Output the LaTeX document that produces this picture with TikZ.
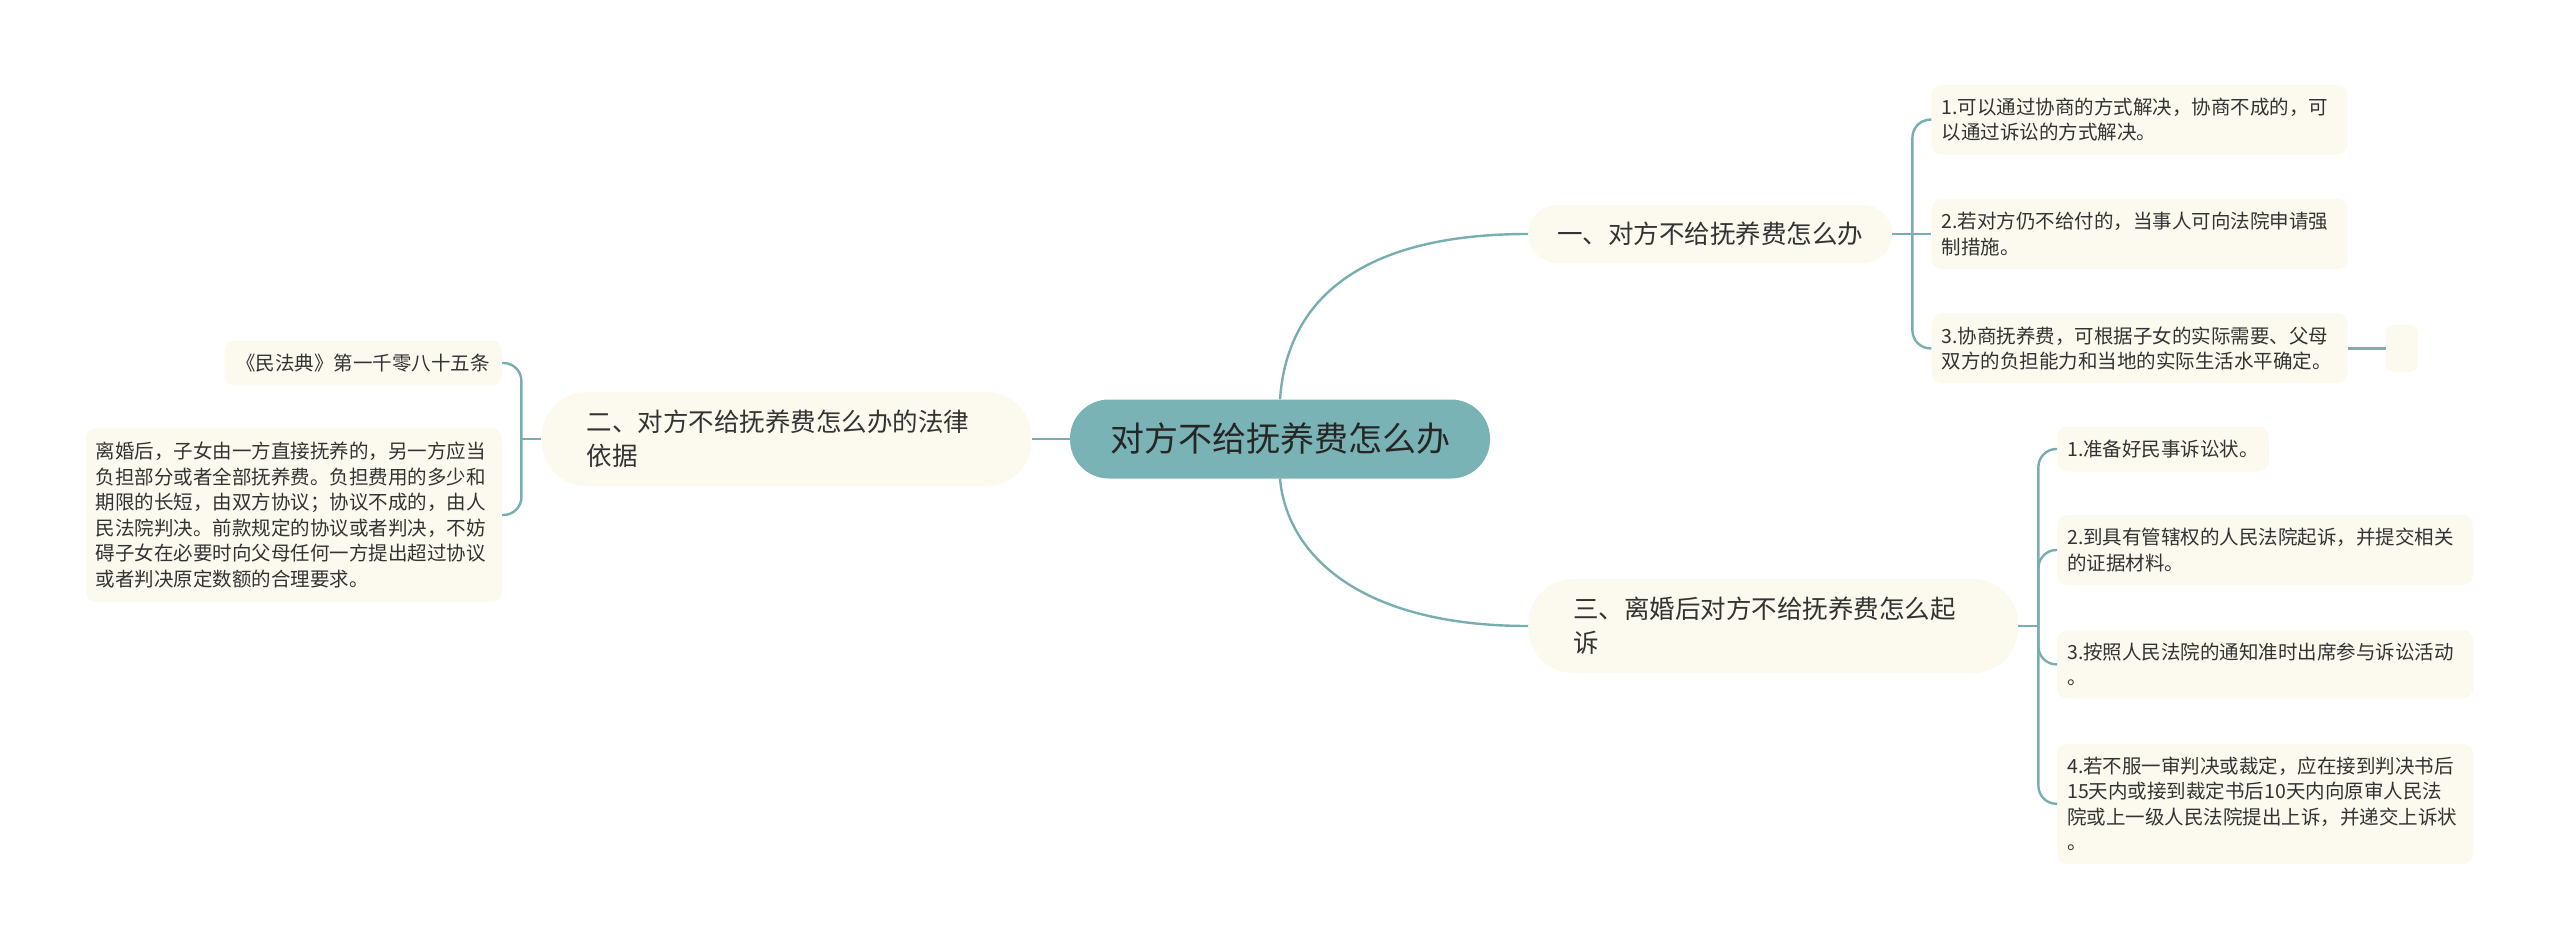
\documentclass[tikz,border=0pt]{standalone}
\usepackage{fontspec}
\newfontfamily\cjk{Noto Sans CJK SC}
\usepackage{tikz}
\usetikzlibrary{positioning}
\definecolor{rootfill}{HTML}{7AB3B5}
\definecolor{linkcol}{HTML}{78AEB0}
\definecolor{cream}{HTML}{FCF9EF}
\definecolor{ink}{HTML}{333333}

\begin{document}
\begin{tikzpicture}[
    x=1pt, y=-1pt,
    root/.style={fill=rootfill, rounded corners=39pt, minimum width=420pt, minimum height=79pt, inner sep=0pt, font=\cjk\fontsize{34}{40}\selectfont, text=black!85},
    branch/.style={fill=cream, rounded corners=29pt, minimum height=58pt, inner xsep=29pt, inner ysep=0pt, font=\cjk\fontsize{25.5}{34}\selectfont, text=ink},
    branchtwo/.style={branch, rounded corners=45pt, minimum height=94pt, text width=400pt, align=left, inner xsep=45pt},
    leaf/.style={fill=cream, rounded corners=10pt, inner xsep=10pt, inner ysep=0pt, font=\cjk\fontsize{19.5}{25.5}\selectfont, text=ink, align=left},
    wideleaf/.style={leaf, text width=396pt},
    link/.style={draw=linkcol, line width=2.4pt},
    bracket/.style={link, rounded corners=18pt}
]
    \useasboundingbox (0,0) rectangle (2560,950);

    % Nodes
    \node[root] (root) at (1280,439) {对方不给抚养费怎么办};
    \node[branch, anchor=west] (b1) at (1528,234) {一、对方不给抚养费怎么办};
    \node[branchtwo, left=38pt of root] (b2) {二、对方不给抚养费怎么办的法律\\依据};
    \node[branchtwo, anchor=west] (b3) at (1528,626) {三、离婚后对方不给抚养费怎么起\\诉};

    \node[wideleaf, minimum height=70pt, right=39pt of b1] (c12) {2.若对方仍不给付的，当事人可向法院申请强\\制措施。};
    \node[wideleaf, minimum height=70pt, above=44pt of c12] (c11) {1.可以通过协商的方式解决，协商不成的，可\\以通过诉讼的方式解决。};
    \node[wideleaf, minimum height=70pt, below=44pt of c12] (c13) {3.协商抚养费，可根据子女的实际需要、父母\\双方的负担能力和当地的实际生活水平确定。};
    \node[leaf, minimum width=32pt, minimum height=47pt, inner sep=0pt, rounded corners=8pt, right=38pt of c13] (c14) {};

    \node[leaf, minimum height=45pt, inner xsep=12pt, anchor=east] (c21) at (502,363) {《民法典》第一千零八十五条};
    \node[wideleaf, minimum height=174pt, anchor=east] (c22) at (502,515) {离婚后，子女由一方直接抚养的，另一方应当\\负担部分或者全部抚养费。负担费用的多少和\\期限的长短，由双方协议；协议不成的，由人\\民法院判决。前款规定的协议或者判决，不妨\\碍子女在必要时向父母任何一方提出超过协议\\或者判决原定数额的合理要求。};

    \node[leaf, minimum height=45pt, anchor=west] (c31) at (2057,449) {1.准备好民事诉讼状。};
    \node[wideleaf, minimum height=70pt, anchor=west] (c32) at (2057,550) {2.到具有管辖权的人民法院起诉，并提交相关\\的证据材料。};
    \node[wideleaf, minimum height=68pt, below=45pt of c32] (c33) {3.按照人民法院的通知准时出席参与诉讼活动\\。};
    \node[wideleaf, minimum height=120pt, below=45pt of c33] (c34) {4.若不服一审判决或裁定，应在接到判决书后\\15天内或接到裁定书后10天内向原审人民法\\院或上一级人民法院提出上诉，并递交上诉状\\。};

    \coordinate[right=20pt of b1] (j1);
    \coordinate[left=20pt of b2] (j2);
    \coordinate[right=20pt of b3] (j3);

    % Links
    \draw[link] (root.west) -- (b2.east);
    \draw[link] (root.north) .. controls +(7,-100) and +(-167,0) .. (b1.west);
    \draw[link] (root.south) .. controls +(7,77) and +(-167,0) .. (b3.west);

    \draw[link] (b1.east) -- (c12.west);
    \draw[bracket] (j1) |- (c11.west);
    \draw[bracket] (j1) |- (c13.west);
    \draw[link] (c13.east) -- (c14.west);

    \draw[link] (b2.west) -- (j2);
    \draw[bracket] (j2) |- (c21.east);
    \draw[bracket] (j2) |- (c22.east);

    \draw[link] (b3.east) -- (j3);
    \foreach \leafname in {c31,c32,c33,c34}
        \draw[bracket] (j3) |- (\leafname.west);
\end{tikzpicture}
\end{document}
